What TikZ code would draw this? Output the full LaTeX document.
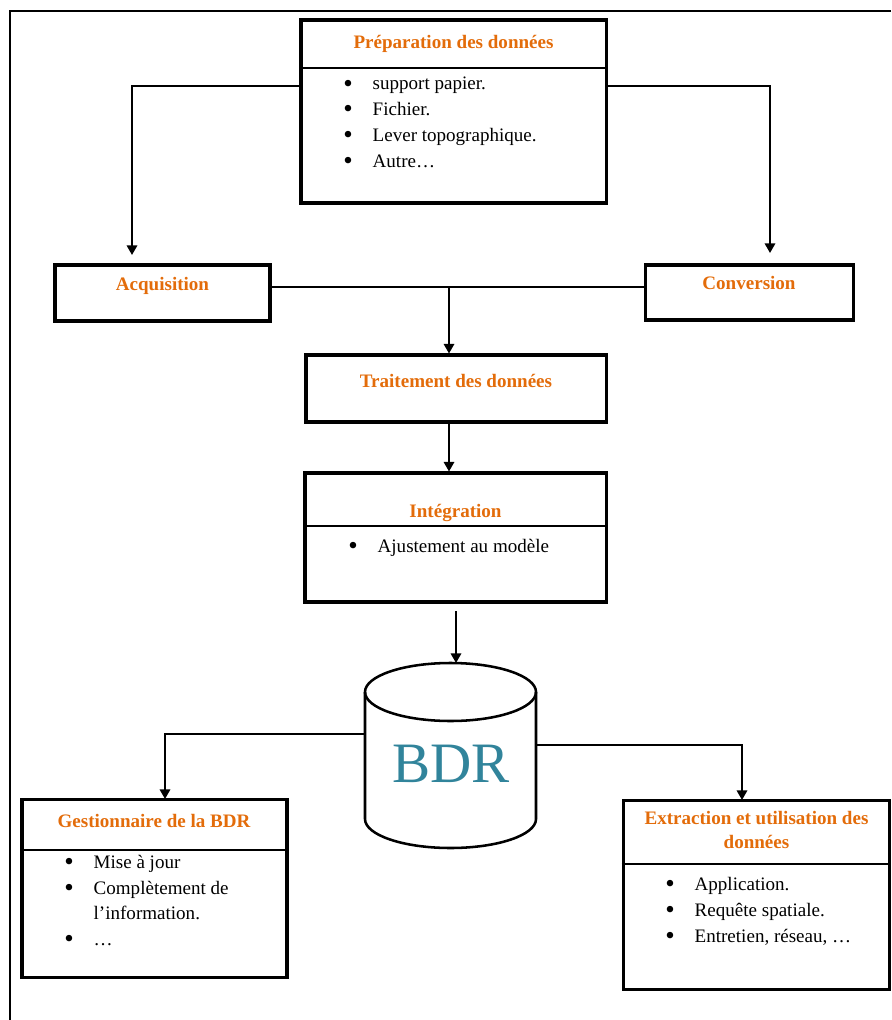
\documentclass[tikz,border=0pt]{standalone}
\usepackage{fontspec}
\setmainfont{Liberation Serif}
\usetikzlibrary{arrows.meta}
\usetikzlibrary{fit}
\usepackage{xcolor}
\definecolor{orangetitre}{HTML}{E36C0A}
\definecolor{bleubdr}{HTML}{31849B}
\newcommand{\grospoint}{\makebox[18.5pt][l]{\raisebox{-1.3pt}{\fontsize{17pt}{17pt}\selectfont\textbullet}}}
\tikzset{
 boite/.style={draw, line width=1.9pt, inner sep=0pt},
 separ/.style={line width=1.5pt},
 titre/.style={anchor=base, inner sep=0pt, text=orangetitre, font=\fontsize{12pt}{15pt}\selectfont\bfseries},
 puce/.style={anchor=base west, inner sep=0pt, font=\fontsize{12pt}{15pt}\selectfont,
  execute at begin node={\grospoint}},
 suite/.style={anchor=base west, inner sep=0pt, font=\fontsize{12pt}{15pt}\selectfont},
 lien/.style={line width=1.25pt},
 fleche/.style={lien, -{Triangle[length=6pt,width=6.5pt]}},
}

\begin{document}
\begin{tikzpicture}[x=0.63pt, y=-0.63pt]
\useasboundingbox (0,0) rectangle (891,1020);
\draw[line width=1pt] (891,11) -- (10,11) -- (10,1020);

% boites
\node[boite, fit={(301,20) (606,203)}] (prep) {};
\node[boite, fit={(55,265) (270,321)}] (acq) {};
\node[boite, fit={(645,265) (853,320)}] (conv) {};
\node[boite, fit={(306,355) (606,422)}] (trait) {};
\node[boite, fit={(305,473) (606,602)}] (integ) {};
\node[boite, fit={(22,799) (287,977)}] (gest) {};
\node[boite, fit={(623,800) (889,989)}] (extr) {};
\draw[separ] (prep.west |- 0,68) -- (prep.east |- 0,68);
\draw[separ] (integ.west |- 0,526) -- (integ.east |- 0,526);
\draw[separ] (gest.west |- 0,850) -- (gest.east |- 0,850);
\draw[separ] (extr.west |- 0,864) -- (extr.east |- 0,864);

% titres
\node[titre] (prep-t) at (453.5,49) {Préparation des données};
\node[titre] (acq-t) at (162.5,291) {Acquisition};
\node[titre] (conv-t) at (749,290) {Conversion};
\node[titre] (trait-t) at (456,387) {Traitement des données};
\node[titre] (integ-t) at (455.5,517) {Intégration};
\node[titre] (gest-t) at (154,827) {Gestionnaire de la BDR};
\node[titre] (extr-t1) at (756.5,824) {Extraction et utilisation des};
\node[titre] (extr-t2) at (756.5,848) {données};

% listes
\foreach \t [count=\i, evaluate=\i as \yb using 90+25.7*(\i-1)] in {support papier., Fichier., Lever topographique., Autre…}
 \node[puce] (prep-\i) at (343,\yb) {\t};
\node[puce] (integ-1) at (348,552) {Ajustement au modèle};
\node[puce] (gest-1) at (64,868) {Mise à jour};
\node[puce] (gest-2) at (64,894) {Complètement de};
\node[suite] (gest-2b) at ([xshift=18.5pt]gest-2.base west |- 0,919) {l’information.};
\node[puce] (gest-3) at (64,945) {…};
\foreach \t [count=\i, evaluate=\i as \yb using 890+26*(\i-1)] in {Application., Requête spatiale., {Entretien, réseau, …}}
 \node[puce] (extr-\i) at (665,\yb) {\t};

% base de donnees
\draw[line width=1.6pt] (365,692) -- (365,819) arc[start angle=180, end angle=0, x radius=85.5, y radius=29] -- (536,692);
\draw[line width=1.6pt] (450.5,692) ellipse [x radius=85.5, y radius=29];
\node[anchor=base, inner sep=0pt, text=bleubdr, font=\fontsize{36pt}{40pt}\selectfont] (bdr) at (451,782) {BDR};
\coordinate (bdr-haut) at (456,663);
\coordinate (bdr-g) at (365,734);
\coordinate (bdr-d) at (536,745);

% liens
\coordinate (acq-in) at (132,255);
\coordinate (conv-in) at (770,253);
\coordinate (jonction) at (449,287);
\coordinate (gest-in) at (165,799);
\coordinate (extr-in) at (742,800);
\draw[fleche] (prep.west |- 0,86) -| (acq-in);
\draw[fleche] (prep.east |- 0,86) -| (conv-in);
\draw[lien] (acq.east |- jonction) -- (conv.west |- jonction);
\draw[fleche] (jonction) -- (jonction |- trait.north);
\draw[fleche] (jonction |- trait.south) -- (jonction |- integ.north);
\draw[fleche, shorten <=5pt] (integ.south -| bdr-haut) -- (bdr-haut);
\draw[fleche] (bdr-g) -| (gest-in);
\draw[fleche] (bdr-d) -| (extr-in);
\end{tikzpicture}
\end{document}
